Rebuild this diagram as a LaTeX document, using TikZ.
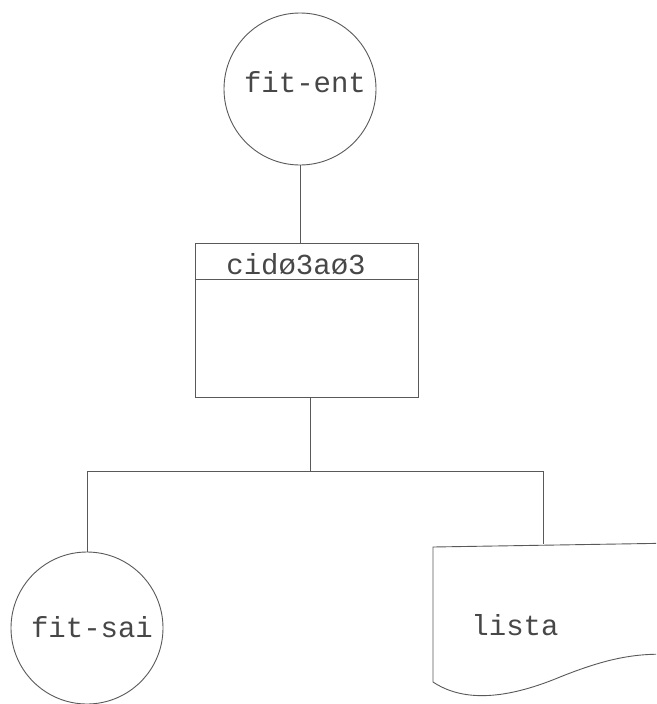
\documentclass[tikz,border=0pt]{standalone}
\usepackage{fontspec}
\setmonofont{Liberation Mono}
\begin{document}
\begin{tikzpicture}[x=1pt,y=-1pt,
  ln/.style={draw=black!65,line width=0.9pt},
  lbl/.style={font=\ttfamily\fontsize{29}{30}\selectfont,text=black!72,inner sep=0pt},
  disk/.style={circle,ln,minimum size=152pt,inner sep=0pt}]
\clip (0,0) rectangle (656,704);
\fill[white] (0,0) rectangle (656,704);
% top circle
\node[disk] (fe) at (300,89) {};
\node[lbl] (fet) at (305,82) {fit-ent};
% process box
\node[rectangle,ln,minimum width=223pt,minimum height=154pt,inner sep=0pt] (proc) at (306.5,320) {};
\draw[ln] ([yshift=-37pt]proc.north west) -- ([yshift=-37pt]proc.north east);
\node[lbl] (title) at (296,264) {cidø3aø3};
% bottom circle
\node[disk] (fs) at (87,628) {};
\node[lbl] (fst) at (92,627) {fit-sai};
% document
\node[rectangle,minimum width=220pt,minimum height=145pt,inner sep=0pt] (doc) at (543,617) {};
\draw[ln] (433,682) -- (433,547) -- (680,543) -- (680,655)
  .. controls (640,652) and (610,657) .. (560,677)
  .. controls (500,702) and (460,700) .. (433,682) -- cycle;
\node[lbl] (lt) at (515,625) {lista};
% connectors
\draw[ln] (fe.south) -- (fe.south |- proc.north);
\coordinate (j) at (310,471);
\draw[ln] (proc.south -| j) -- (j);
\draw[ln] (fs.north) |- (j);
\draw[ln] (j) -| (doc.north);
\end{tikzpicture}
\end{document}
